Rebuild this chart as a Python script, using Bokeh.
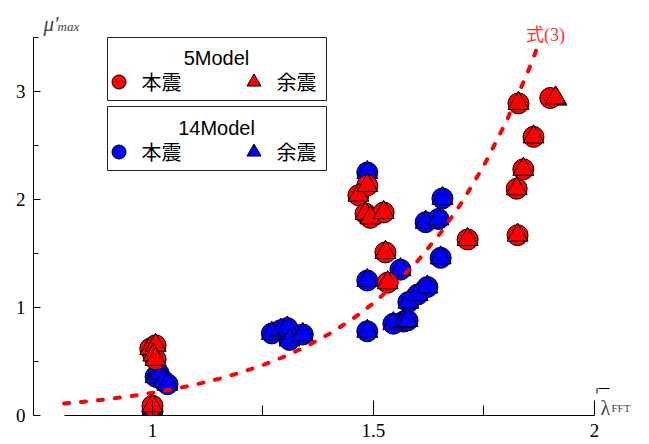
from bokeh.plotting import figure
from bokeh.models import (Range1d, Legend, LegendItem, Label, BoxAnnotation,
                          FixedTicker)
from bokeh.embed import file_html
from bokeh.resources import INLINE

# ---------------- data ----------------
# 5Model (red): main shock (circles) / aftershock (triangles)
x5_main = [1.000, 0.995, 1.007, 1.002, 1.007, 1.466, 1.486, 1.482, 1.493, 1.523,
           1.527, 1.532, 1.713, 1.826, 1.824, 1.839, 1.862, 1.828, 1.900]
y5_main = [0.09, 0.62, 0.65, 0.56, 0.52, 2.04, 2.13, 1.87, 1.83, 1.88,
           1.51, 1.23, 1.63, 1.67, 2.10, 2.28, 2.58, 2.89, 2.94]
x5_after = [1.000, 0.995, 1.007, 1.002, 1.007, 1.466, 1.486, 1.482, 1.493, 1.523,
            1.527, 1.532, 1.713, 1.826, 1.824, 1.839, 1.862, 1.828, 1.912]
y5_after = [0.09, 0.62, 0.65, 0.56, 0.52, 2.04, 2.13, 1.87, 1.83, 1.88,
            1.51, 1.23, 1.63, 1.67, 2.10, 2.28, 2.58, 2.89, 2.94]

# 14Model (blue): main shock (circles) / aftershock (triangles)
x14_main = [1.000, 1.007, 1.014, 1.025, 1.034, 1.270, 1.290, 1.305, 1.310, 1.340,
            1.486, 1.486, 1.486, 1.545, 1.561, 1.568, 1.577, 1.579, 1.600, 1.622,
            1.618, 1.647, 1.652, 1.656]
y14_main = [0.04, 0.36, 0.39, 0.32, 0.29, 0.76, 0.79, 0.81, 0.70, 0.75,
            2.25, 1.25, 0.78, 0.85, 1.35, 0.87, 0.88, 1.05, 1.12, 1.19,
            1.79, 1.82, 1.46, 2.01]
x14_after = [1.000, 1.007, 1.014, 1.025, 1.034, 1.270, 1.290, 1.305, 1.310, 1.340,
             1.486, 1.486, 1.486, 1.545, 1.561, 1.568, 1.577, 1.579, 1.600, 1.622,
             1.618, 1.647, 1.652, 1.656, 1.914]
y14_after = [0.04, 0.36, 0.39, 0.32, 0.29, 0.76, 0.79, 0.81, 0.70, 0.75,
             2.25, 1.25, 0.78, 0.85, 1.35, 0.87, 0.88, 1.05, 1.12, 1.19,
             1.79, 1.82, 1.46, 2.01, 2.93]

# Curve 式(3)
curve_x = [0.80, 0.85, 0.90, 0.95, 1.00, 1.05, 1.10, 1.15, 1.20, 1.25, 1.30, 1.35,
           1.40, 1.45, 1.50, 1.55, 1.60, 1.65, 1.70, 1.75, 1.80, 1.85, 1.875]
curve_y = [0.111, 0.130, 0.152, 0.179, 0.210, 0.246, 0.289, 0.339, 0.398, 0.467,
           0.548, 0.644, 0.755, 0.886, 1.040, 1.221, 1.432, 1.681, 1.973, 2.315,
           2.717, 3.188, 3.453]

x_ticks = [1, 1.5, 2]
x_tick_labels = ["1", "1.5", "2"]
x_minor = [1.25, 1.75]
y_ticks = [0, 1, 2, 3]
y_tick_labels = ["0", "1", "2", "3"]
y_minor = [0.5, 1.5, 2.5, 3.5]

RED = "#ff0000"
BLUE = "#0000ff"
SERIF = "Liberation Serif"
CJK = "Noto Sans CJK JP"

# ---------------- figure ----------------
p = figure(width=633, height=444, output_backend="svg", toolbar_location=None,
           x_range=Range1d(0.7308, 2.0883), y_range=Range1d(0, 3.8426),
           min_border_left=33, min_border_right=0, min_border_top=0,
           min_border_bottom=29)
p.outline_line_color = None
p.grid.visible = False
p.background_fill_color = "white"

# axes
xa = p.xaxis[0]
xa.ticker = FixedTicker(ticks=x_ticks, minor_ticks=x_minor)
xa.major_label_overrides = dict(zip(x_ticks, x_tick_labels))
xa.bounds = (0.8, 2.0)
xa.major_tick_in = 15
xa.major_tick_out = 0
xa.minor_tick_in = 10
xa.minor_tick_out = 0
xa.major_label_standoff = 8

ya = p.yaxis[0]
ya.ticker = FixedTicker(ticks=y_ticks, minor_ticks=y_minor)
ya.major_label_overrides = dict(zip(y_ticks, y_tick_labels))
ya.bounds = (0, 3.5)
ya.major_tick_in = 7
ya.major_tick_out = 0
ya.minor_tick_in = 5
ya.minor_tick_out = 0
ya.major_label_standoff = 8

for ax in (xa, ya):
    ax.axis_line_color = "black"
    ax.major_tick_line_color = "black"
    ax.minor_tick_line_color = "black"
    ax.major_label_text_font = SERIF
    ax.major_label_text_font_size = "19px"
    ax.major_label_text_color = "black"

# ---------------- data glyphs ----------------
common = dict(size=21, line_color="black", line_width=1)
r14c = p.scatter(x14_main, y14_main, marker="circle", fill_color=BLUE, **common)
r14t = p.scatter(x14_after, y14_after, marker="triangle", fill_color=BLUE, **common)
r5c = p.scatter(x5_main, y5_main, marker="circle", fill_color=RED, **common)
r5t = p.scatter(x5_after, y5_after, marker="triangle", fill_color=RED, **common)

p.line(curve_x, curve_y, line_color=RED, line_width=4, line_dash="5 12",
       line_cap="round")

# ---------------- legend boxes ----------------
for (b, t) in [(315, 378), (245, 309)]:
    p.add_layout(BoxAnnotation(left=74, right=293, bottom=b, top=t,
                               left_units="screen", right_units="screen",
                               top_units="screen", bottom_units="screen",
                               fill_color="white", fill_alpha=1.0,
                               line_color="#222222", line_width=1,
                               line_alpha=1.0))

for title, ty in [("5Model", 358), ("14Model", 288)]:
    p.add_layout(Label(x=183, y=ty, x_units="screen", y_units="screen",
                       text=title, text_align="center", text_baseline="middle",
                       text_font="Liberation Sans", text_font_size="20px",
                       text_color="black"))

for (rc, rt, ly) in [(r5c, r5t, 316.5), (r14c, r14t, 246.5)]:
    lg = Legend(items=[LegendItem(label="本震", renderers=[rc]),
                       LegendItem(label="余震", renderers=[rt])],
                orientation="horizontal", location=(67.5, ly),
                glyph_width=35, glyph_height=35, label_standoff=6,
                label_width=40, spacing=54, padding=0, margin=0,
                border_line_alpha=0, background_fill_alpha=0,
                label_text_font=CJK, label_text_font_size="20px",
                label_text_color="black")
    p.add_layout(lg)

# ---------------- axis titles & curve label ----------------
p.add_layout(Label(x=10, y=392, x_units="screen", y_units="screen", text="μ′",
                   text_font=SERIF, text_font_style="italic",
                   text_font_size="21px", text_baseline="alphabetic"))
p.add_layout(Label(x=24, y=389, x_units="screen", y_units="screen", text="max",
                   text_font=SERIF, text_font_style="italic",
                   text_font_size="13px", text_baseline="alphabetic"))

p.add_layout(Label(x=567, y=8, x_units="screen", y_units="screen", text="λ",
                   text_font=SERIF, text_font_size="20px",
                   text_baseline="alphabetic"))
p.add_layout(Label(x=578, y=8, x_units="screen", y_units="screen", text="FFT",
                   text_font=SERIF, text_font_size="11px",
                   text_baseline="alphabetic"))
p.add_layout(BoxAnnotation(left=565, right=576, bottom=26.5, top=27.5,
                           left_units="screen", right_units="screen",
                           top_units="screen", bottom_units="screen",
                           fill_color="black", fill_alpha=1.0, line_alpha=0))
p.add_layout(BoxAnnotation(left=563, right=564, bottom=22, top=27.5,
                           left_units="screen", right_units="screen",
                           top_units="screen", bottom_units="screen",
                           fill_color="black", fill_alpha=1.0, line_alpha=0))

p.add_layout(Label(x=512, y=381, x_units="screen", y_units="screen",
                   text="式(3)", text_align="center", text_baseline="middle",
                   text_font="'Liberation Serif', 'Noto Sans CJK JP'",
                   text_font_size="18px", text_color="#ff3030"))

open("out.html", "w").write(file_html(p, INLINE))
